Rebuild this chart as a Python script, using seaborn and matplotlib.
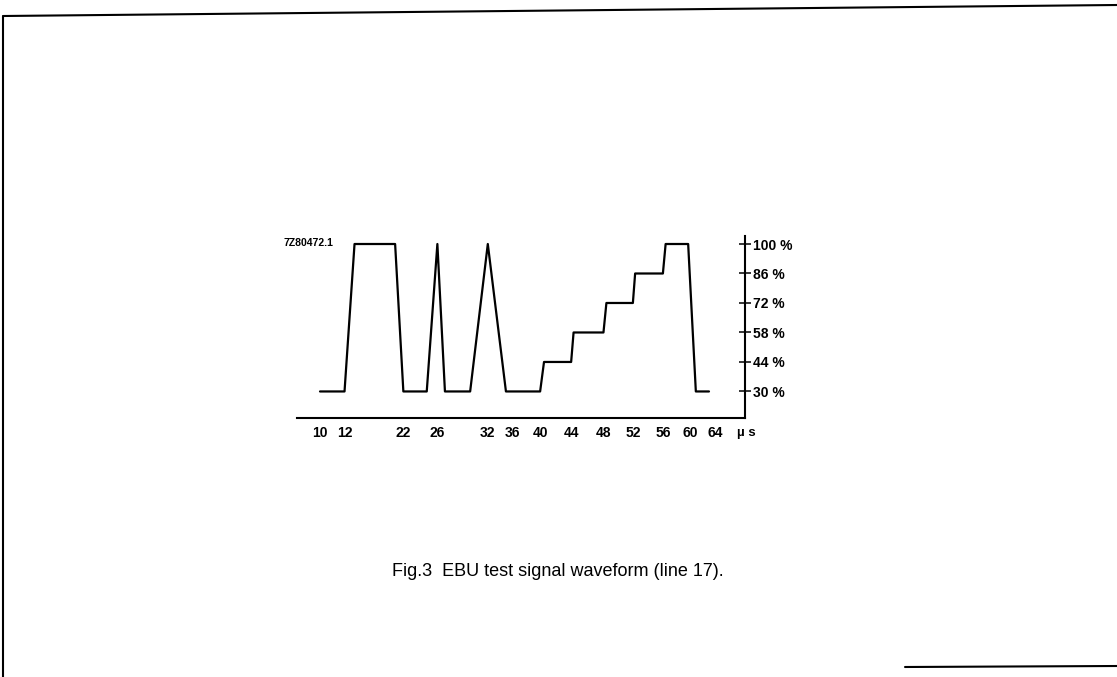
import numpy as np
import pandas as pd
import matplotlib.pyplot as plt
import seaborn as sns
from matplotlib.lines import Line2D

# waveform of the EBU test line (time in microseconds, level in percent)
time_us = [10, 12, 13.7, 20.6, 22, 24.75, 26, 26.9, 29.9, 32, 34.9, 40, 40.5, 44, 44.3,
           48, 48.4, 52, 52.3, 56, 56.4, 59.7, 60.9, 63]
level_pct = [30, 30, 100, 100, 30, 30, 100, 30, 30, 100, 30, 30, 44, 44, 58,
             58, 72, 72, 86, 86, 100, 100, 30, 30]

x_ticks = [10, 12, 22, 26, 32, 36, 40, 44, 48, 52, 56, 60, 64]
y_ticks = [30, 44, 58, 72, 86, 100]
y_labels = ['30 %', '44 %', '58 %', '72 %', '86 %', '100 %']

# the drawing is not to scale along time: piecewise mapping of the drawn axis
scale_us = [8, 10, 12, 22, 26, 32, 36, 40, 44, 48, 52, 56, 60, 64, 69]
scale_drawn = [295, 320, 344.5, 403.3, 437.3, 487.7, 512.7, 540, 571, 603.3, 632.7, 662.7, 690, 715, 746]

def fwd(v):
    return np.interp(v, scale_us, scale_drawn)

def inv(v):
    return np.interp(v, scale_drawn, scale_us)

df = pd.DataFrame({'t': time_us, 'level': level_pct})

sns.set_style('white')
plt.rcParams['font.family'] = ['Liberation Sans', 'DejaVu Sans']
plt.rcParams['text.color'] = 'black'
plt.rcParams['xtick.color'] = 'black'
plt.rcParams['ytick.color'] = 'black'

fig = plt.figure(figsize=(11.17, 6.77), dpi=100)
ax = fig.add_axes([297 / 1117, 1 - 418 / 677, (745 - 297) / 1117, (418 - 236) / 677])

sns.lineplot(data=df, x='t', y='level', ax=ax, color='black', lw=1.6,
             estimator=None, sort=False)

ax.set_xscale('function', functions=(fwd, inv))
ax.set_xlim(8.16, 68.8)
ax.set_ylim(17.4, 103.8)

ax.set_xticks(x_ticks)
ax.set_xticklabels([str(v) for v in x_ticks])
ax.set_yticks(y_ticks)
ax.set_yticklabels(y_labels)
ax.yaxis.tick_right()
ax.minorticks_off()

for s in ['top', 'left']:
    ax.spines[s].set_visible(False)
for s in ['bottom', 'right']:
    ax.spines[s].set_color('black')
    ax.spines[s].set_linewidth(1.5)

ax.tick_params(axis='both', direction='inout', length=8, width=1.1, color='black',
               labelsize=10, pad=2)
for lab in ax.get_xticklabels() + ax.get_yticklabels():
    lab.set_fontweight('bold')
ax.set_xlabel('')
ax.set_ylabel('')

fig.text(737 / 1117, 1 - 433 / 677, 'µ s', fontsize=9.5, fontweight='bold', va='center', ha='left')
fig.text(284 / 1117, 1 - 243 / 677, '7Z80472.1', fontsize=7.5, fontweight='bold', va='center', ha='left')
fig.text(558 / 1117, 1 - 572 / 677, 'Fig.3  EBU test signal waveform (line 17).', fontsize=13,
         va='center', ha='center')

# page frame from the scan
fig.add_artist(Line2D([0.003, 1.0], [1 - 16 / 677, 1 - 5 / 677], transform=fig.transFigure, color='black', lw=1.5))
fig.add_artist(Line2D([0.003, 0.003], [1 - 16 / 677, 0], transform=fig.transFigure, color='black', lw=1.5))
fig.add_artist(Line2D([905 / 1117, 1.0], [1 - 667 / 677, 1 - 666 / 677], transform=fig.transFigure, color='black', lw=1.5))

fig.savefig('out.png', dpi=100)
